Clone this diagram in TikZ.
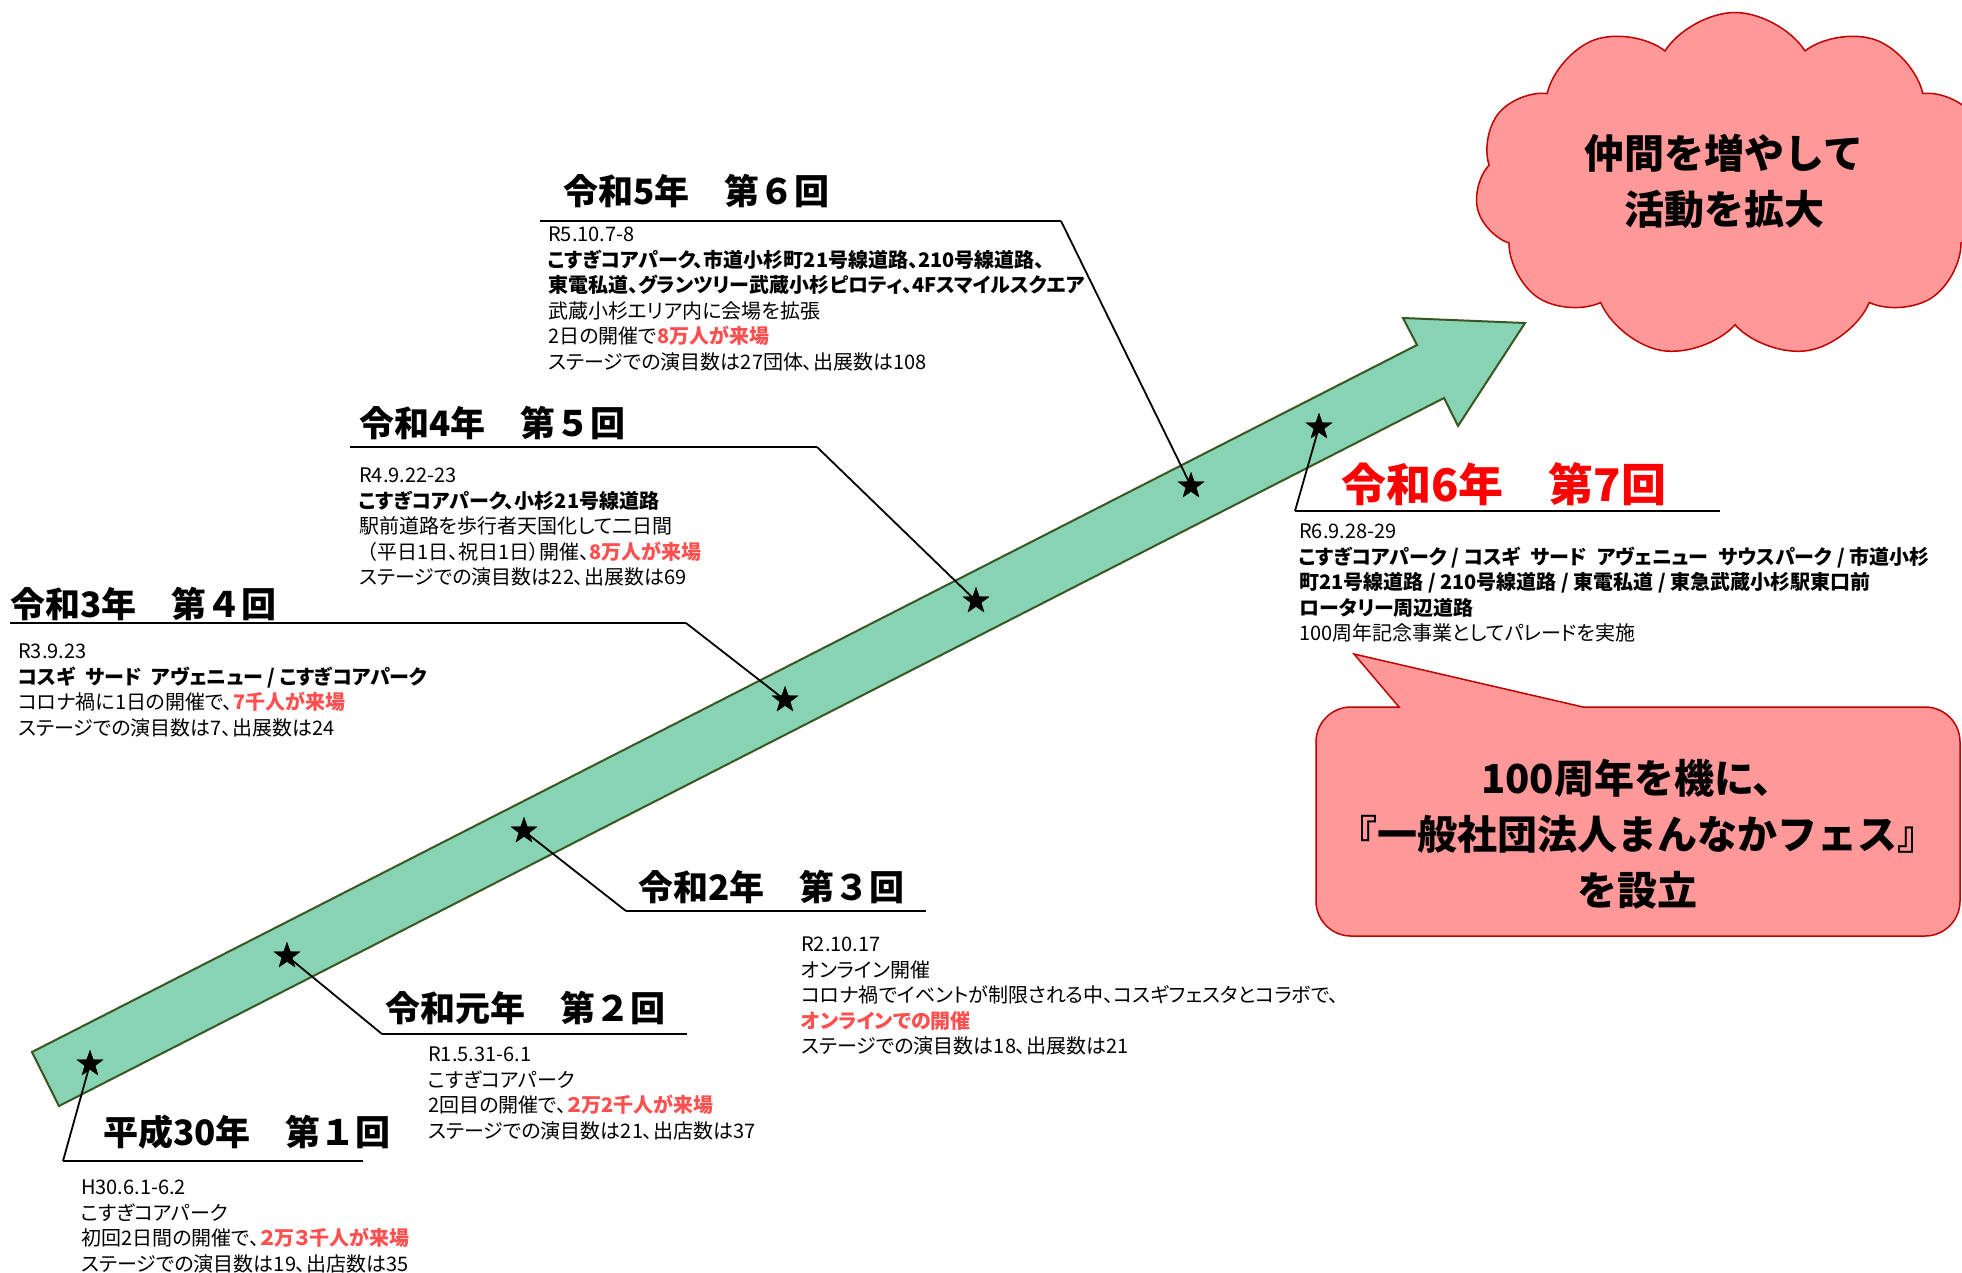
\documentclass[tikz,border=0pt]{standalone}
\usepackage{fontspec}
\setmainfont{Noto Sans CJK JP}
\newfontfamily\bodyjp{Noto Sans CJK JP}[RawFeature=+palt]
\usetikzlibrary{shapes.geometric,shapes.symbols}
\definecolor{arrowfill}{HTML}{88D3B4}
\definecolor{arrowline}{HTML}{385723}
\definecolor{pinkfill}{HTML}{FF9999}
\definecolor{pinkline}{HTML}{C00000}
\definecolor{hlred}{HTML}{FF4F4F}
\newcommand{\hlt}[1]{{\color{hlred}\bfseries #1}}
\newcommand{\gap}{\hspace{0.5em}}
\begin{document}
\begin{tikzpicture}[x=1pt,y=-1pt,
  body/.style={font=\bodyjp\fontsize{20}{25.5}\selectfont, anchor=north west, inner sep=0pt, align=left},
  head/.style={font=\fontsize{35}{40}\selectfont\bfseries, anchor=west, inner sep=0pt},
  starnode/.style={star, star points=5, star point ratio=2.5, fill=black, minimum size=28pt, inner sep=0pt},
  leader/.style={line width=1.8pt, black},
  uline/.style={line width=2.6pt, black},
  bigtxt/.style={font=\fontsize{40}{56}\selectfont\bfseries, align=center, inner sep=0pt},
]
\useasboundingbox (0,0) rectangle (1962,1272);
\fill[white] (0,0) rectangle (1962,1272);

% arrow
\draw[fill=arrowfill, draw=arrowline, line width=2pt, line join=miter]
  (32,1052) -- (1417,345) -- (1403,318) -- (1525,323) -- (1458,426) -- (1444,398) -- (59,1106) -- cycle;

% stars
\node[starnode] (s1) at (90,1064) {};
\node[starnode] (s2) at (287,956) {};
\node[starnode] (s3) at (524,831) {};
\node[starnode] (s4) at (785,700) {};
\node[starnode] (s5) at (976,601) {};
\node[starnode] (s6) at (1191,486) {};
\node[starnode] (s7) at (1319,427) {};

% leader corners and underline ends
\coordinate (c1) at (63,1161);  \coordinate (u1) at (363,1161);
\coordinate (c2) at (382,1034); \coordinate (u2) at (687,1034);
\coordinate (c3) at (626,911);  \coordinate (u3) at (926,911);
\coordinate (c4) at (686,623);  \coordinate (u4) at (10,623);
\coordinate (c5) at (817,447);  \coordinate (u5) at (350,447);
\coordinate (c6) at (1061,221); \coordinate (u6) at (540,221);
\coordinate (c7) at (1295,511); \coordinate (u7) at (1720,511);

\foreach \i in {1,...,7}{
  \draw[leader] (s\i.center) -- (c\i);
  \draw[uline] (c\i) -- (u\i);
}
\foreach \i in {1,...,7}{ \node[starnode] at (s\i) {}; }

% headings
\node[head] (h1) at (103,1132) {平成30年　第１回};
\node[head] (h2) at (385,1008) {令和元年　第２回};
\node[head] (h3) at (638,887) {令和2年　第３回};
\node[head] (h4) at (10,604) {令和3年　第４回};
\node[head] (h5) at (359,423) {令和4年　第５回};
\node[head] (h6) at (563,191) {令和5年　第６回};
\node[head, font=\fontsize{45}{50}\selectfont\bfseries, text=red] (h7) at (1341,484) {令和6年　第7回};

% body texts
\node[body] (b1) at (81,1180) {H30.6.1-6.2\\こすぎコアパーク\\初回2日間の開催で、\hlt{２万３千人が来場}\\ステージでの演目数は19、出店数は35};
\node[body] (b2) at (428,1047) {R1.5.31-6.1\\こすぎコアパーク\\2回目の開催で、\hlt{２万2千人が来場}\\ステージでの演目数は21、出店数は37};
\node[body] (b3) at (801,937) {R2.10.17\\オンライン開催\\コロナ禍でイベントが制限される中、コスギフェスタとコラボで、\\\hlt{オンラインでの開催}\\ステージでの演目数は18、出展数は21};
\node[body] (b4) at (18,644) {R3.9.23\\\textbf{コスギ\gap サード\gap アヴェニュー / こすぎコアパーク}\\コロナ禍に1日の開催で、\hlt{7千人が来場}\\ステージでの演目数は7、出展数は24};
\node[body] (b5) at (359,468) {R4.9.22-23\\\textbf{こすぎコアパーク、小杉21号線道路}\\駅前道路を歩行者天国化して二日間\\\hspace{8pt}（平日1日、祝日1日）開催、\hlt{8万人が来場}\\ステージでの演目数は22、出展数は69};
\node[body] (b6) at (548,227) {R5.10.7-8\\\textbf{こすぎコアパーク、市道小杉町21号線道路、210号線道路、}\\\textbf{東電私道、グランツリー武蔵小杉ピロティ、4Fスマイルスクエア}\\武蔵小杉エリア内に会場を拡張\\2日の開催で\hlt{8万人が来場}\\ステージでの演目数は27団体、出展数は108};
\node[body] (b7) at (1299,524) {R6.9.28-29\\\textbf{こすぎコアパーク / コスギ\gap サード\gap アヴェニュー\gap サウスパーク / 市道小杉}\\\textbf{町21号線道路 / 210号線道路 / 東電私道 / 東急武蔵小杉駅東口前}\\\textbf{ロータリー周辺道路}\\100周年記念事業としてパレードを実施};

% cloud
\node[cloud, cloud puffs=11, cloud puff arc=115, aspect=1.5, draw=pinkline, fill=pinkfill, line width=1.5pt,
      minimum width=520pt, minimum height=345pt, inner sep=0pt] (cloud) at (1735,185) {};
\node[bigtxt] (cloudtxt) at (1724,181) {仲間を増やして\\活動を拡大};

% speech bubble
\draw[fill=pinkfill, draw=pinkline, line width=1.5pt, line join=miter]
  (1351,707) -- (1399,707) -- (1354,654) -- (1583,707) -- (1925,707)
  .. controls (1944.3,707) and (1960,722.7) .. (1960,742)
  -- (1960,901)
  .. controls (1960,920.3) and (1944.3,936) .. (1925,936)
  -- (1351,936)
  .. controls (1331.7,936) and (1316,920.3) .. (1316,901)
  -- (1316,742)
  .. controls (1316,722.7) and (1331.7,707) .. (1351,707) -- cycle;
\node[bigtxt] (btxt) at (1637,834) {100周年を機に、\\『一般社団法人まんなかフェス』\\を設立};
\end{tikzpicture}
\end{document}
